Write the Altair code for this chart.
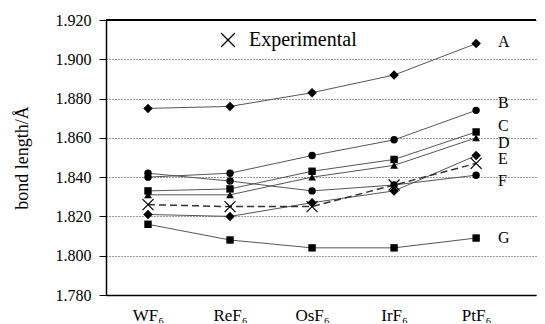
import altair as alt
import pandas as pd

compounds = ["WF₆", "ReF₆", "OsF₆", "IrF₆", "PtF₆"]
series_names = ["A", "B", "C", "D", "E", "F", "G"]
A = [1.875, 1.876, 1.883, 1.892, 1.908]
B = [1.840, 1.842, 1.851, 1.859, 1.874]
C = [1.833, 1.834, 1.843, 1.849, 1.863]
D = [1.831, 1.831, 1.840, 1.846, 1.860]
E = [1.821, 1.820, 1.827, 1.833, 1.851]
F = [1.842, 1.838, 1.833, 1.836, 1.841]
G = [1.816, 1.808, 1.804, 1.804, 1.809]
experimental = [1.826, 1.825, 1.825, 1.836, 1.847]
label_y = [1.9086, 1.8777, 1.866, 1.8573, 1.849, 1.8379, 1.809]
y_ticks = [1.78, 1.80, 1.82, 1.84, 1.86, 1.88, 1.90, 1.92]
shapes = ["diamond", "circle", "square", "triangle-up", "diamond", "circle", "square"]
marker_sizes = [90, 55, 55, 60, 90, 55, 55]

rows = []
for name, vals in zip(series_names, [A, B, C, D, E, F, G]):
    for i, v in enumerate(vals):
        rows.append({"series": name, "idx": i, "value": v})
theory = pd.DataFrame(rows)
exp = pd.DataFrame({"series": "Experimental", "idx": list(range(5)), "value": experimental})
labels = pd.DataFrame({"series": series_names, "idx": 4, "value": label_y})

label_expr = "[" + ",".join("'" + c + "'" for c in compounds) + "][datum.value]"

xenc = alt.X("idx:Q", scale=alt.Scale(domain=[-0.512, 4.73], nice=False, zero=False),
             axis=alt.Axis(values=[0, 1, 2, 3, 4], tickCount=10, labelExpr=label_expr, title=None,
                           ticks=False, grid=False, labelPadding=12, labelFontSize=17,
                           labelFlush=False, labelOverlap=False,
                           domainWidth=1.5, domainColor="black"))
yenc = alt.Y("value:Q", scale=alt.Scale(domain=[1.78, 1.92], nice=False, zero=False),
             axis=alt.Axis(values=y_ticks, tickCount=20, format=".3f",
                           title="bond length/Å", titleFontSize=18, titleFontWeight="normal",
                           labelFontSize=16, labelOverlap=False, labelFlush=False,
                           grid=True, gridDash=[1, 2], gridColor="black",
                           gridOpacity=0.8, ticks=True, tickSize=7, tickColor="black",
                           domainWidth=1.5, domainColor="black", titlePadding=24, labelPadding=8))

base_t = alt.Chart(theory)
lines = base_t.mark_line(color="#555555", strokeWidth=1).encode(x=xenc, y=yenc, detail="series:N")
points = base_t.mark_point(filled=True, color="black", opacity=1).encode(
    x="idx:Q", y="value:Q",
    shape=alt.Shape("series:N", scale=alt.Scale(domain=series_names, range=shapes), legend=None),
    size=alt.Size("series:N", scale=alt.Scale(type="ordinal", domain=series_names, range=marker_sizes),
                  legend=None),
)
base_e = alt.Chart(exp)
xpath = "M-1,-1L1,1M1,-1L-1,1"
exp_line = base_e.mark_line(color="#333333", strokeWidth=1.5, strokeDash=[7, 4]).encode(
    x="idx:Q", y="value:Q")
exp_pts = base_e.mark_point(shape=xpath, filled=False, strokeWidth=1.2, size=121, opacity=1).encode(
    x="idx:Q", y="value:Q",
    color=alt.Color("series:N", scale=alt.Scale(domain=["Experimental"], range=["black"]),
                    legend=alt.Legend(title=None, orient="none", legendX=112, legendY=10,
                                      symbolType=xpath, symbolSize=196, symbolStrokeWidth=1.3,
                                      symbolFillColor="transparent", symbolStrokeColor="black",
                                      labelFontSize=20, labelOffset=11, labelColor="black")),
)
text = alt.Chart(labels).mark_text(align="left", baseline="middle", dx=22, fontSize=16,
                                   font="Liberation Serif", color="black").encode(
    x="idx:Q", y="value:Q", text="series:N")
top = alt.Chart(labels).mark_rule(color="black", strokeWidth=1.2).encode(y=alt.datum(1.92))

chart = alt.layer(lines, exp_line, points, exp_pts, text, top).properties(
    width=430, height=275, padding={"left": 5, "top": 4, "right": 0, "bottom": 0}
).configure(font="Liberation Serif").configure_view(stroke=None).configure_axis(
    labelFont="Liberation Serif", titleFont="Liberation Serif", labelColor="black", titleColor="black"
).configure_legend(labelFont="Liberation Serif")

chart.save("out.html", embed_options={"renderer": "svg", "actions": False})
